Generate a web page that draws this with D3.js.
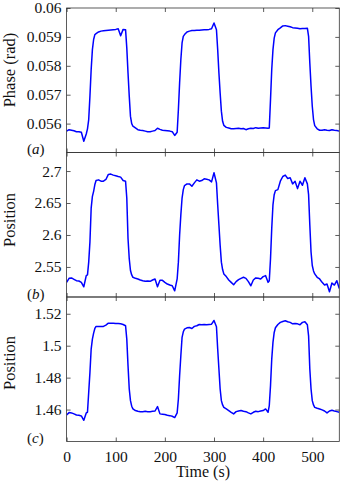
<!DOCTYPE html>
<html>
<head>
<meta charset="utf-8">
<script src="https://d3js.org/d3.v7.min.js"></script>
<style>
  body { margin: 0; background: #fff; }
  text { font-family: "Liberation Serif", "DejaVu Serif", serif; fill: #111; }
</style>
</head>
<body>
<script>
// time axis (s); every 5 s, with extra samples on the switching edges
var time = [
  0, 5, 10, 15, 20, 25, 30, 35, 40, 42.5,
  45, 47.5, 50, 52.5, 55, 57.5, 60, 65, 70, 75,
  80, 85, 90, 95, 100, 105, 110, 115, 120, 122.5,
  125, 127.5, 130, 132.5, 135, 140, 145, 150, 155, 160,
  165, 170, 175, 180, 185, 190, 195, 200, 205, 210,
  215, 220, 225, 227.5, 230, 232.5, 235, 237.5, 240, 245,
  250, 255, 260, 265, 270, 275, 280, 285, 290, 295,
  300, 305, 307.5, 310, 312.5, 315, 317.5, 320, 325, 330,
  335, 340, 345, 350, 355, 360, 365, 370, 375, 380,
  385, 390, 395, 400, 405, 410, 412.5, 415, 417.5, 420,
  422.5, 425, 430, 435, 440, 445, 450, 455, 460, 465,
  470, 475, 480, 485, 490, 492.5, 495, 497.5, 500, 502.5,
  505, 510, 515, 520, 525, 530, 535, 540, 545, 550,
  555
];

// (a) phase (rad)
var phase = [
  0.05574, 0.05579, 0.05577, 0.05575, 0.05572, 0.05572, 0.05570, 0.05539, 0.05564, 0.05582,
  0.05614, 0.05695, 0.05787, 0.05856, 0.05891, 0.05908, 0.05911, 0.05917, 0.05920, 0.05921,
  0.05922, 0.05923, 0.05924, 0.05925, 0.05926, 0.05928, 0.05904, 0.05926, 0.05925, 0.05862,
  0.05775, 0.05695, 0.05625, 0.05600, 0.05591, 0.05585, 0.05579, 0.05577, 0.05576, 0.05574,
  0.05572, 0.05572, 0.05574, 0.05576, 0.05584, 0.05580, 0.05577, 0.05576, 0.05575, 0.05574,
  0.05572, 0.05559, 0.05570, 0.05648, 0.05741, 0.05821, 0.05879, 0.05902, 0.05908, 0.05917,
  0.05920, 0.05922, 0.05922, 0.05923, 0.05923, 0.05924, 0.05925, 0.05925, 0.05926, 0.05928,
  0.05948, 0.05925, 0.05856, 0.05775, 0.05706, 0.05643, 0.05608, 0.05594, 0.05587, 0.05585,
  0.05582, 0.05582, 0.05583, 0.05584, 0.05582, 0.05583, 0.05579, 0.05582, 0.05584, 0.05583,
  0.05586, 0.05584, 0.05585, 0.05586, 0.05585, 0.05584, 0.05585, 0.05683, 0.05787, 0.05856,
  0.05896, 0.05914, 0.05925, 0.05931, 0.05938, 0.05939, 0.05937, 0.05935, 0.05932, 0.05931,
  0.05930, 0.05928, 0.05929, 0.05929, 0.05930, 0.05902, 0.05810, 0.05729, 0.05660, 0.05614,
  0.05593, 0.05582, 0.05577, 0.05577, 0.05579, 0.05577, 0.05576, 0.05579, 0.05577, 0.05576,
  0.05574
];

// (b) position
var posB = [
  2.5259, 2.5322, 2.5328, 2.5307, 2.5285, 2.5280, 2.5259, 2.5190, 2.5364, 2.5375,
  2.5575, 2.5892, 2.6419, 2.6604, 2.6683, 2.6789, 2.6852, 2.6862, 2.6841, 2.6841,
  2.6868, 2.6947, 2.6952, 2.6936, 2.6926, 2.6915, 2.6905, 2.6852, 2.6841, 2.6578,
  2.5945, 2.5628, 2.5444, 2.5375, 2.5338, 2.5322, 2.5312, 2.5296, 2.5285, 2.5275,
  2.5280, 2.5275, 2.5296, 2.5312, 2.5190, 2.5291, 2.5291, 2.5259, 2.5233, 2.5217,
  2.5206, 2.5127, 2.5312, 2.5575, 2.5997, 2.6314, 2.6578, 2.6709, 2.6773, 2.6799,
  2.6799, 2.6762, 2.6815, 2.6862, 2.6841, 2.6852, 2.6878, 2.6873, 2.6862, 2.6831,
  2.6973, 2.6815, 2.6472, 2.6156, 2.5839, 2.5575, 2.5459, 2.5391, 2.5349, 2.5296,
  2.5259, 2.5222, 2.5270, 2.5301, 2.5322, 2.5338, 2.5322, 2.5270, 2.5206, 2.5296,
  2.5328, 2.5322, 2.5312, 2.5349, 2.5364, 2.5259, 2.5285, 2.5628, 2.6103, 2.6472,
  2.6630, 2.6694, 2.6709, 2.6841, 2.6915, 2.6936, 2.6883, 2.6894, 2.6799, 2.6841,
  2.6725, 2.6841, 2.6778, 2.6894, 2.6799, 2.6630, 2.6156, 2.5734, 2.5523, 2.5438,
  2.5391, 2.5338, 2.5312, 2.5259, 2.5217, 2.5233, 2.5111, 2.5248, 2.5217, 2.5285,
  2.5164
];

// (c) position
var posC = [
  1.4566, 1.4581, 1.4579, 1.4573, 1.4566, 1.4564, 1.4560, 1.4533, 1.4579, 1.4583,
  1.4708, 1.4833, 1.4979, 1.5041, 1.5079, 1.5108, 1.5121, 1.5121, 1.5121, 1.5121,
  1.5129, 1.5141, 1.5141, 1.5141, 1.5139, 1.5139, 1.5137, 1.5133, 1.5125, 1.5041,
  1.4875, 1.4729, 1.4656, 1.4621, 1.4604, 1.4594, 1.4589, 1.4587, 1.4587, 1.4589,
  1.4587, 1.4587, 1.4589, 1.4591, 1.4619, 1.4573, 1.4571, 1.4569, 1.4564, 1.4562,
  1.4558, 1.4550, 1.4579, 1.4666, 1.4812, 1.4937, 1.5052, 1.5087, 1.5104, 1.5112,
  1.5114, 1.5108, 1.5121, 1.5125, 1.5133, 1.5131, 1.5133, 1.5131, 1.5133, 1.5135,
  1.5158, 1.5119, 1.4979, 1.4854, 1.4729, 1.4656, 1.4629, 1.4614, 1.4604, 1.4594,
  1.4583, 1.4573, 1.4587, 1.4591, 1.4594, 1.4589, 1.4587, 1.4579, 1.4573, 1.4583,
  1.4589, 1.4587, 1.4591, 1.4594, 1.4604, 1.4583, 1.4625, 1.4750, 1.4916, 1.5021,
  1.5083, 1.5112, 1.5133, 1.5146, 1.5152, 1.5156, 1.5150, 1.5146, 1.5137, 1.5139,
  1.5137, 1.5131, 1.5146, 1.5150, 1.5131, 1.5062, 1.4854, 1.4729, 1.4656, 1.4629,
  1.4614, 1.4608, 1.4604, 1.4598, 1.4591, 1.4579, 1.4591, 1.4596, 1.4591, 1.4587,
  1.4583
];

var xTicks = [0, 100, 200, 300, 400, 500];
var ticksA = [0.056, 0.057, 0.058, 0.059, 0.06];
var ticksB = [2.55, 2.6, 2.65, 2.7];
var ticksC = [1.46, 1.48, 1.5, 1.52];

var panels = [
  {key: 'a', label: 'Phase (rad)', values: phase, domain: [0.055, 0.06], ticks: ticksA, labelY: 70},
  {key: 'b', label: 'Position', values: posB, domain: [2.503, 2.729], ticks: ticksB, labelY: 220},
  {key: 'c', label: 'Position', values: posC, domain: [1.44, 1.5305], ticks: ticksC, labelY: 363}
];

var w = 342, h = 482;
var plotL = 66.6, plotR = 339.3, plotT = 8, ph = 144.5;

var svg = d3.select('body').append('svg')
  .attr('width', w)
  .attr('height', h);

var x = d3.scaleLinear().domain([0, 555]).range([plotL, plotR]);

panels.forEach(function (p, i) {
  var y0 = plotT + i * ph, y1 = y0 + ph;
  var y = d3.scaleLinear().domain(p.domain).range([y1, y0]);

  svg.append('clipPath').attr('id', 'clip' + i)
    .append('rect').attr('x', plotL).attr('y', y0).attr('width', plotR - plotL).attr('height', ph);

  var line = d3.line()
    .x(function (d, j) { return x(time[j]); })
    .y(function (d) { return y(d); });

  svg.append('path')
    .datum(p.values)
    .attr('clip-path', 'url(#clip' + i + ')')
    .attr('d', line)
    .attr('fill', 'none')
    .attr('stroke', '#0000ff')
    .attr('stroke-width', 1.5)
    .attr('stroke-linejoin', 'round');

  // y axis left with labels, inward ticks
  var gl = svg.append('g').attr('transform', 'translate(' + plotL + ',0)')
    .call(d3.axisLeft(y).tickValues(p.ticks).tickSize(-4).tickSizeOuter(0).tickPadding(5)
      .tickFormat(function (d) { return String(d); }));
  // right
  var gr = svg.append('g').attr('transform', 'translate(' + plotR + ',0)')
    .call(d3.axisRight(y).tickValues(p.ticks).tickSize(-4).tickSizeOuter(0).tickFormat(''));
  // top
  var gt = svg.append('g').attr('transform', 'translate(0,' + y0 + ')')
    .call(d3.axisTop(x).tickValues(xTicks).tickSize(-4).tickSizeOuter(0).tickFormat(''));
  // bottom
  var gb = svg.append('g').attr('transform', 'translate(0,' + y1 + ')')
    .call(d3.axisBottom(x).tickValues(xTicks).tickSize(-4).tickSizeOuter(0).tickPadding(9)
      .tickFormat(i === 2 ? function (d) { return d; } : ''));

  [gl, gr, gt, gb].forEach(function (g) {
    g.select('.domain').remove();
    g.selectAll('line').attr('stroke', '#333').attr('stroke-width', 0.8);
    g.selectAll('text').attr('font-family', '"Liberation Serif", serif').attr('font-size', 15.5).attr('fill', '#111');
  });

  svg.append('rect')
    .attr('x', plotL).attr('y', y0)
    .attr('width', plotR - plotL).attr('height', ph)
    .attr('fill', 'none')
    .attr('stroke', '#333')
    .attr('stroke-width', 0.8);

  // y label
  svg.append('text')
    .attr('transform', 'translate(15,' + p.labelY + ') rotate(-90)')
    .attr('text-anchor', 'middle')
    .attr('font-size', 16.5)
    .text(p.label);

  // panel tag
  var tag = svg.append('text')
    .attr('x', 27)
    .attr('y', y1 + 1.5)
    .attr('font-size', 15);
  tag.append('tspan').text('(');
  tag.append('tspan').attr('font-style', 'italic').text(p.key);
  tag.append('tspan').text(')');
});

svg.append('text')
  .attr('x', (plotL + plotR) / 2)
  .attr('y', 477)
  .attr('text-anchor', 'middle')
  .attr('font-size', 16)
  .text('Time (s)');
</script>
</body>
</html>
